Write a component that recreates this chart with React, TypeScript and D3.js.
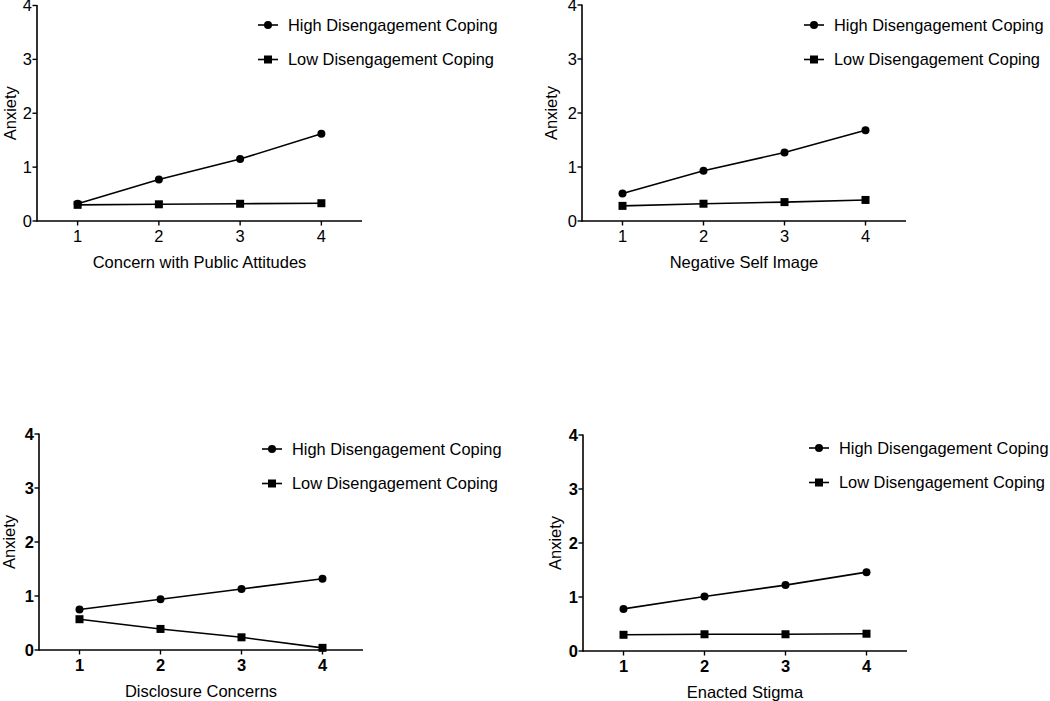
import React from "react";
import * as d3 from "d3";

const xLevels = [1, 2, 3, 4];
const yTicks = [0, 1, 2, 3, 4];
const seriesNames = ["High Disengagement Coping", "Low Disengagement Coping"];
const panelTitles = ["Concern with Public Attitudes", "Negative Self Image", "Disclosure Concerns", "Enacted Stigma"];

const publicHigh = [0.32, 0.77, 1.15, 1.62];
const publicLow = [0.3, 0.31, 0.32, 0.33];
const selfHigh = [0.51, 0.93, 1.27, 1.68];
const selfLow = [0.28, 0.32, 0.35, 0.39];
const discHigh = [0.75, 0.94, 1.13, 1.32];
const discLow = [0.57, 0.39, 0.235, 0.04];
const enactHigh = [0.78, 1.01, 1.22, 1.46];
const enactLow = [0.3, 0.31, 0.31, 0.32];

const panelData = [
  [publicHigh, publicLow],
  [selfHigh, selfLow],
  [discHigh, discLow],
  [enactHigh, enactLow],
];

const layout = [
  { x0: 37, x1: 362, y0: 221, y1: 5.5, titleX: 10, legendX: 268, legendY: 25, bold: false },
  { x0: 582, x1: 906, y0: 221, y1: 5, titleX: 551, legendX: 814, legendY: 25, bold: false },
  { x0: 39, x1: 363, y0: 650, y1: 434, titleX: 9, legendX: 272, legendY: 449, bold: true },
  { x0: 583, x1: 907, y0: 651, y1: 435, titleX: 555, legendX: 819, legendY: 448, bold: true },
];

const FONT = "'Liberation Sans', Arial, Helvetica, sans-serif";

function Marker({ kind, x, y }: { kind: number; x: number; y: number }) {
  if (kind === 0) return <circle cx={x} cy={y} r={4} fill="#000" />;
  return <rect x={x - 4} y={y - 4} width={8} height={8} fill="#000" />;
}

function Panel({ idx }: { idx: number }) {
  const L = layout[idx];
  const data = panelData[idx];
  const x = d3.scaleLinear().domain([0.5, 4.5]).range([L.x0, L.x1]);
  const y = d3.scaleLinear().domain([0, 4]).range([L.y0, L.y1]);
  const line = d3
    .line<number>()
    .x((_, i) => x(xLevels[i]))
    .y((d) => y(d));
  const fw = L.bold ? "bold" : "normal";
  const midX = (L.x0 + L.x1) / 2;
  const midY = (L.y0 + L.y1) / 2;
  return (
    <g fontFamily={FONT}>
      {/* y axis */}
      <line x1={L.x0} x2={L.x0} y1={y(4) - 0.5} y2={L.y0 + 0.8} stroke="#000" strokeWidth={1.6} />
      {yTicks.map((t) => (
        <g key={"y" + t}>
          <line x1={L.x0 - 4.5} x2={L.x0} y1={y(t)} y2={y(t)} stroke="#000" strokeWidth={1.4} />
          <text x={L.x0 - 5} y={y(t)} dy="0.36em" textAnchor="end" fontSize={16.5} fontWeight={fw}>
            {t}
          </text>
        </g>
      ))}
      {/* x axis */}
      <line x1={L.x0} x2={L.x1} y1={L.y0} y2={L.y0} stroke="#000" strokeWidth={1.6} />
      {xLevels.map((t) => (
        <g key={"x" + t}>
          <line x1={x(t)} x2={x(t)} y1={L.y0} y2={L.y0 + 4.5} stroke="#000" strokeWidth={1.4} />
          <text x={x(t)} y={L.y0 + 21} textAnchor="middle" fontSize={16.5} fontWeight={fw}>
            {t}
          </text>
        </g>
      ))}
      <text x={midX} y={L.y0 + 46.5} textAnchor="middle" fontSize={16.5}>
        {panelTitles[idx]}
      </text>
      <text
        transform={`translate(${L.titleX},${midY}) rotate(-90)`}
        textAnchor="middle"
        dy="0.35em"
        fontSize={16.5}
      >
        Anxiety
      </text>
      {/* series */}
      {data.map((vals, s) => (
        <g key={"s" + s}>
          <path d={line(vals) || ""} fill="none" stroke="#000" strokeWidth={1.6} />
          {vals.map((v, i) => (
            <Marker key={i} kind={s} x={x(xLevels[i])} y={y(v)} />
          ))}
        </g>
      ))}
      {/* legend */}
      {seriesNames.map((name, s) => {
        const ly = L.legendY + s * 34.5;
        return (
          <g key={"l" + s}>
            <line x1={L.legendX - 10} x2={L.legendX + 10} y1={ly} y2={ly} stroke="#000" strokeWidth={1.6} />
            <Marker kind={s} x={L.legendX} y={ly} />
            <text x={L.legendX + 20} y={ly} dy="0.36em" fontSize={16.4}>
              {name}
            </text>
          </g>
        );
      })}
    </g>
  );
}

export default function App() {
  return (
    <svg
      width={1050}
      height={701}
      style={{ position: "absolute", left: 0, top: 0, display: "block", background: "#fff" }}
    >
      <rect width={1050} height={701} fill="#fff" />
      {layout.map((_, i) => (
        <Panel key={i} idx={i} />
      ))}
    </svg>
  );
}
